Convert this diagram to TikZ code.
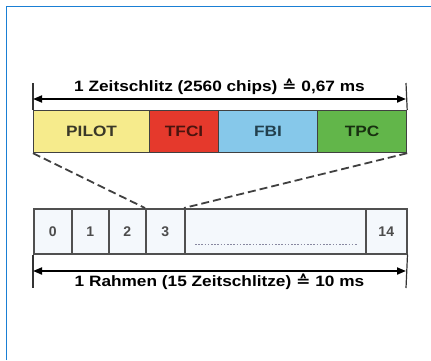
\documentclass[tikz,border=0pt]{standalone}
\usepackage{fontspec}
\setmainfont{Liberation Sans}
\newfontfamily\symfont{DejaVu Sans}
\usetikzlibrary{arrows.meta}
\definecolor{frameblue}{HTML}{1A7FD4}
\definecolor{cpilot}{HTML}{F6EB8C}
\definecolor{ctfci}{HTML}{E5392C}
\definecolor{cfbi}{HTML}{86C8EA}
\definecolor{ctpc}{HTML}{62B64A}
\definecolor{tpilot}{HTML}{3A3828}
\definecolor{ttfci}{HTML}{4A140E}
\definecolor{tfbi}{HTML}{22404E}
\definecolor{ttpc}{HTML}{183010}
\definecolor{slotfill}{HTML}{F4F8FC}
\definecolor{slotline}{HTML}{505050}
\definecolor{dotcol}{HTML}{8888A0}
\tikzset{
  field/.style={draw=black!75, line width=1.2pt, minimum height=42pt, inner sep=0pt},
  fieldtext/.style={font=\bfseries\fontsize{15}{15}\selectfont, inner sep=0pt, xscale=1.15},
  slot/.style={draw=slotline, fill=slotfill, line width=1.5pt, minimum height=45pt, inner sep=0pt},
  slottext/.style={text=black!70, font=\bfseries\fontsize{14}{14}\selectfont, inner sep=0pt},
  dim/.style={line width=1.8pt, {Triangle[length=9pt,width=7pt]}-{Triangle[length=9pt,width=7pt]}},
  tick/.style={line width=1.2pt, black!80},
  zoomline/.style={line width=1.8pt, black!75, dash pattern=on 8pt off 4pt},
  dimtext/.style={font=\bfseries\fontsize{15}{15}\selectfont, inner sep=0pt, xscale=1.15}
}
\begin{document}
\begin{tikzpicture}[x=1pt,y=-1pt]
\useasboundingbox (0,0) rectangle (431,360);
\fill[white] (0,0) rectangle (431,360);
% frame
\draw[frameblue, line width=1.5pt] (6.5,360) -- (6.5,6.5) -- (431,6.5);
% top fields
\node[field, fill=cpilot, minimum width=116pt, anchor=north west] (pilot) at (33,110) {};
\node[field, fill=ctfci, minimum width=69pt, anchor=north west] (tfci) at (149,110) {};
\node[field, fill=cfbi, minimum width=99pt, anchor=north west] (fbi) at (218,110) {};
\node[field, fill=ctpc, minimum width=89pt, anchor=north west] (tpc) at (317,110) {};
\node[fieldtext, text=tpilot] (lpilot) at (pilot.center) {PILOT};
\node[fieldtext, text=ttfci] (ltfci) at (tfci.center) {TFCI};
\node[fieldtext, text=tfbi] (lfbi) at (fbi.center) {FBI};
\node[fieldtext, text=ttpc] (ltpc) at (tpc.center) {TPC};
% top dimension
\coordinate (tl) at (33,83);
\coordinate (tr) at (406,83);
\draw[tick] (tl) -- (pilot.north west);
\draw[tick] (tr) -- (tpc.north east);
\coordinate (tal) at (33,99);
\coordinate (tar) at (406,99);
\draw[dim] (tal) -- (tar);
\node[dimtext] (ttext) at (219.5,87) {1 Zeitschlitz (2560 chips) {\symfont ≙} 0,67 ms};
% bottom slots
\node[slot, minimum width=38pt, anchor=north west] (s0) at (33,208) {};
\node[slot, minimum width=37pt, anchor=north west] (s1) at (71,208) {};
\node[slot, minimum width=37pt, anchor=north west] (s2) at (108,208) {};
\node[slot, minimum width=39pt, anchor=north west] (s3) at (145,208) {};
\node[slot, minimum width=181pt, anchor=north west] (sd) at (184,208) {};
\node[slot, minimum width=41pt, anchor=north west] (s14) at (365,208) {};
\node[slottext] (l0) at (s0.center) {0};
\node[slottext] (l1) at (s1.center) {1};
\node[slottext] (l2) at (s2.center) {2};
\node[slottext] (l3) at (s3.center) {3};
\node[slottext] (l14) at (s14.center) {14};
\draw[dotcol, line width=1.6pt, dash pattern=on 1.6pt off 1.6pt] ([xshift=11pt,yshift=10pt]sd.south west) -- ([xshift=-10pt,yshift=10pt]sd.south east);
% zoom lines
\draw[zoomline] (pilot.south west) -- (s3.north west);
\draw[zoomline] (tpc.south east) -- (sd.north west);
% bottom dimension
\coordinate (bl) at (33,288);
\coordinate (br) at (406,288);
\draw[tick] (s0.south west) -- (bl);
\draw[tick] (s14.south east) -- (br);
\coordinate (bal) at (33,271);
\coordinate (bar) at (406,271);
\draw[dim] (bal) -- (bar);
\node[dimtext] (btext) at (219.5,282) {1 Rahmen (15 Zeitschlitze) {\symfont ≙} 10 ms};
\end{tikzpicture}
\end{document}
